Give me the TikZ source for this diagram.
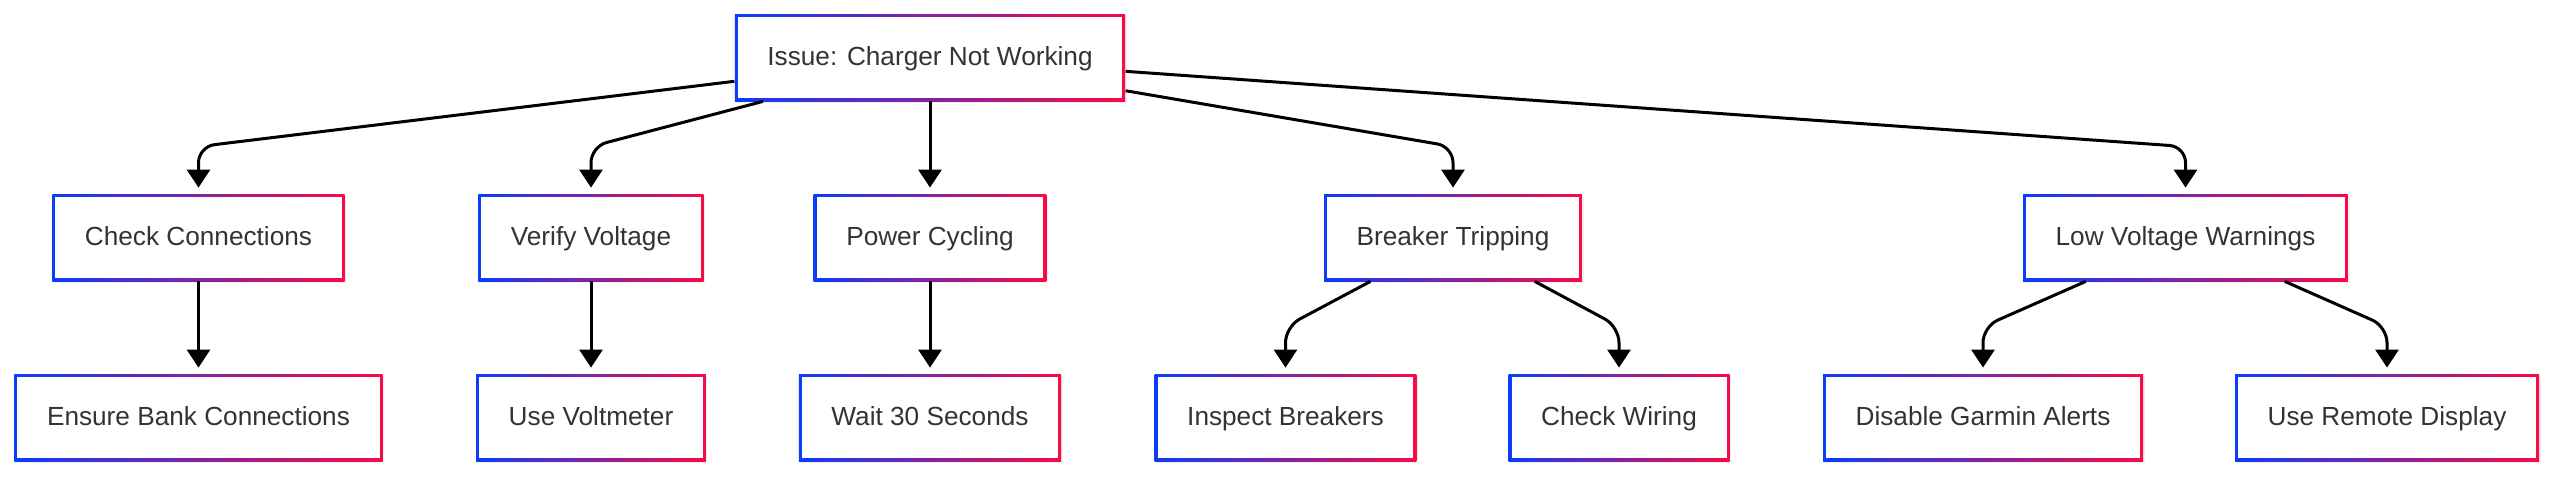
\documentclass[tikz,border=0pt]{standalone}
\usepackage{fontspec}
\setmainfont{Liberation Sans}
\usepackage{tikz}
\usetikzlibrary{arrows.meta,shadows}
\definecolor{grad blue}{RGB}{10, 60, 250}
\definecolor{grad red}{RGB}{250, 10, 70}
\definecolor{label gray}{RGB}{51, 51, 51}

\begin{document}
\begin{tikzpicture}[x=0.5pt, y=-0.5pt,
		box/.style={rectangle, minimum height=43.5pt, inner xsep=16.3pt, inner ysep=0pt,
			text height=10.5pt, text depth=2.3pt,
			left color=grad blue, right color=grad red, text=label gray,
			font=\fontsize{13.1}{15}\selectfont,
			drop shadow={opacity=0.12, shadow xshift=0.8pt, shadow yshift=-1pt},
			path picture={\fill[white] ([shift={(1.5pt,-1.5pt)}]path picture bounding box.north west)
				rectangle ([shift={(-1.5pt,1.5pt)}]path picture bounding box.south east);}},
		flow/.style={draw=black, line width=1.5pt, rounded corners=8pt,
			-{Triangle[length=9pt,width=11.5pt]}, shorten >=3pt}]
		\useasboundingbox (0, 0) rectangle (2560, 477);
		% top
		\node[box] (issue) at (930, 57.5) {Issue: Charger Not Working};
		% first row
		\node[box] (conn) at (198.5, 237.5) {Check Connections};
		\node[box] (volt) at (591, 237.5) {Verify Voltage};
		\node[box] (cycle) at (930, 237.5) {Power Cycling};
		\node[box] (breaker) at (1453, 237.5) {Breaker Tripping};
		\node[box] (low) at (2185.5, 237.5) {Low Voltage Warnings};
		% second row
		\node[box] (bank) at (198.5, 417.5) {Ensure Bank Connections};
		\node[box] (meter) at (591, 417.5) {Use Voltmeter};
		\node[box] (wait) at (930, 417.5) {Wait 30 Seconds};
		\node[box] (inspect) at (1285.5, 417.5) {Inspect Breakers};
		\node[box] (wiring) at (1619, 417.5) {Check Wiring};
		\node[box] (garmin) at (1983, 417.5) {Disable Garmin Alerts};
		\node[box] (remote) at (2387, 417.5) {Use Remote Display};
		% arrows
		\draw[flow] (issue) -- ([yshift=23.5pt]conn.north) -- (conn);
		\draw[flow] (issue) -- ([yshift=23.5pt]volt.north) -- (volt);
		\draw[flow] (issue) -- (cycle);
		\draw[flow] (issue) -- ([yshift=23.5pt]breaker.north) -- (breaker);
		\draw[flow] (issue) -- ([yshift=23.5pt]low.north) -- (low);
		\draw[flow] (conn) -- (bank);
		\draw[flow] (volt) -- (meter);
		\draw[flow] (cycle) -- (wait);
		\draw[flow] (breaker) -- ([yshift=23.5pt]inspect.north) -- (inspect);
		\draw[flow] (breaker) -- ([yshift=23.5pt]wiring.north) -- (wiring);
		\draw[flow] (low) -- ([yshift=23.5pt]garmin.north) -- (garmin);
		\draw[flow] (low) -- ([yshift=23.5pt]remote.north) -- (remote);
	\end{tikzpicture}
\end{document}
